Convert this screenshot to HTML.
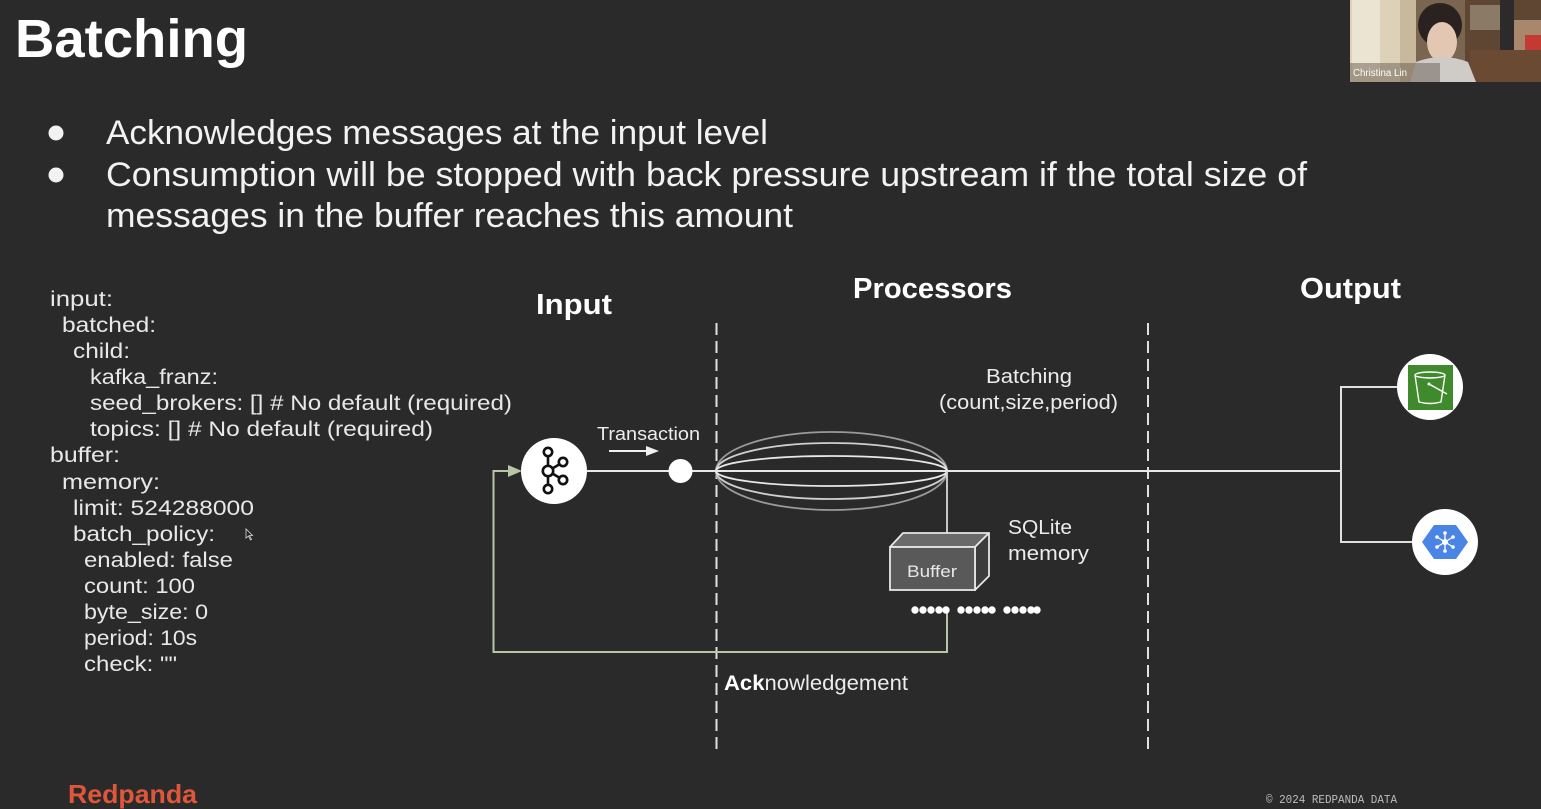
<!DOCTYPE html>
<html><head><meta charset="utf-8">
<style>
html,body{margin:0;padding:0;background:#2b2a2b;width:1541px;height:809px;overflow:hidden}
svg{display:block}
text{font-family:"Liberation Sans",sans-serif}
</style></head>
<body>
<svg width="1541" height="809" viewBox="0 0 1541 809" xmlns="http://www.w3.org/2000/svg">
<rect x="0" y="0" width="1541" height="809" fill="#2b2a2b"/>

<!-- Title -->
<text x="15" y="57" font-size="54" font-weight="bold" fill="#ffffff" textLength="233" lengthAdjust="spacingAndGlyphs">Batching</text>

<!-- Bullets -->
<circle cx="56" cy="133" r="7.5" fill="#f2f2f2"/>
<circle cx="56" cy="175" r="7.5" fill="#f2f2f2"/>
<g fill="#f2f2f2" font-size="34">
<text x="106" y="144" textLength="662" lengthAdjust="spacingAndGlyphs">Acknowledges messages at the input level</text>
<text x="106" y="186" textLength="1201" lengthAdjust="spacingAndGlyphs">Consumption will be stopped with back pressure upstream if the total size of</text>
<text x="106" y="227" textLength="687" lengthAdjust="spacingAndGlyphs">messages in the buffer reaches this amount</text>
</g>

<!-- Code -->
<g fill="#e8e8e8" font-size="21.5">
<text x="50" y="306" textLength="63" lengthAdjust="spacingAndGlyphs">input:</text>
<text x="62" y="332" textLength="94" lengthAdjust="spacingAndGlyphs">batched:</text>
<text x="73" y="358" textLength="57" lengthAdjust="spacingAndGlyphs">child:</text>
<text x="90" y="384" textLength="128" lengthAdjust="spacingAndGlyphs">kafka_franz:</text>
<text x="90" y="410" textLength="422" lengthAdjust="spacingAndGlyphs">seed_brokers: [] # No default (required)</text>
<text x="90" y="436" textLength="343" lengthAdjust="spacingAndGlyphs">topics: [] # No default (required)</text>
<text x="50" y="462" textLength="70" lengthAdjust="spacingAndGlyphs">buffer:</text>
<text x="62" y="489" textLength="98" lengthAdjust="spacingAndGlyphs">memory:</text>
<text x="73" y="515" textLength="181" lengthAdjust="spacingAndGlyphs">limit: 524288000</text>
<text x="73" y="541" textLength="142" lengthAdjust="spacingAndGlyphs">batch_policy:</text>
<text x="84" y="567" textLength="149" lengthAdjust="spacingAndGlyphs">enabled: false</text>
<text x="84" y="593" textLength="111" lengthAdjust="spacingAndGlyphs">count: 100</text>
<text x="84" y="619" textLength="124" lengthAdjust="spacingAndGlyphs">byte_size: 0</text>
<text x="84" y="645" textLength="113" lengthAdjust="spacingAndGlyphs">period: 10s</text>
<text x="84" y="671" textLength="93" lengthAdjust="spacingAndGlyphs">check: ""</text>
</g>
<!-- cursor -->
<path d="M246 529 L246 538 L248.5 536 L250.5 540 L251.5 539.5 L249.5 535.5 L252.5 535.5 Z" fill="#222" stroke="#ddd" stroke-width="0.8"/>

<!-- Column headings -->
<g fill="#ffffff" font-weight="bold" font-size="29">
<text x="536" y="314" textLength="76" lengthAdjust="spacingAndGlyphs">Input</text>
<text x="853" y="298" textLength="159" lengthAdjust="spacingAndGlyphs">Processors</text>
<text x="1300" y="298" textLength="101" lengthAdjust="spacingAndGlyphs">Output</text>
</g>

<!-- Dashed separators -->
<line x1="716.5" y1="323" x2="716.5" y2="750" stroke="#e0e0e0" stroke-width="2" stroke-dasharray="12,6"/>
<line x1="1148" y1="323" x2="1148" y2="750" stroke="#e0e0e0" stroke-width="2" stroke-dasharray="12,6"/>

<!-- Batching label -->
<g fill="#ececec" font-size="20">
<text x="986" y="383" textLength="86" lengthAdjust="spacingAndGlyphs">Batching</text>
<text x="939" y="409" textLength="179" lengthAdjust="spacingAndGlyphs">(count,size,period)</text>
</g>

<!-- Transaction -->
<text x="597" y="440" font-size="18" fill="#ececec" textLength="103" lengthAdjust="spacingAndGlyphs">Transaction</text>
<line x1="609" y1="451" x2="648" y2="451" stroke="#f0f0f0" stroke-width="2"/>
<path d="M646 446 L659 451 L646 456 Z" fill="#f0f0f0"/>

<!-- Acknowledgement loop (green) -->
<path d="M947 610 L947 652 L493.5 652 L493.5 471 L512 471" fill="none" stroke="#b9c6a6" stroke-width="2"/>
<path d="M508 465 L522 471 L508 477 Z" fill="#b9c6a6"/>

<!-- Main line -->
<line x1="587" y1="471" x2="1340" y2="471" stroke="#e8e8e8" stroke-width="2"/>

<!-- Ellipses -->
<g fill="none">
<ellipse cx="831.5" cy="471" rx="115.5" ry="39" stroke="#9a9a9a" stroke-width="1.8"/>
<ellipse cx="831.5" cy="471" rx="115.5" ry="28" stroke="#cfcfcf" stroke-width="1.8"/>
<ellipse cx="831.5" cy="471" rx="115.5" ry="15" stroke="#e8e8e8" stroke-width="1.8"/>
</g>

<!-- Kafka node -->
<circle cx="554" cy="471" r="33" fill="#ffffff"/>
<g stroke="#111" stroke-width="2.6" fill="none">
<line x1="548" y1="456" x2="548" y2="485"/>
<line x1="548" y1="471" x2="560" y2="464"/>
<line x1="548" y1="471" x2="560" y2="478"/>
<circle cx="548" cy="452" r="4.2" fill="#fff"/>
<circle cx="548" cy="471" r="5.2" fill="#fff"/>
<circle cx="548" cy="489" r="4.2" fill="#fff"/>
<circle cx="563" cy="462" r="4.2" fill="#fff"/>
<circle cx="563" cy="480" r="4.2" fill="#fff"/>
</g>

<!-- Transaction dot -->
<circle cx="680.5" cy="471" r="12" fill="#ffffff"/>

<!-- Buffer connector -->
<line x1="947" y1="471" x2="947" y2="533" stroke="#d8d8d8" stroke-width="1.8"/>

<!-- Buffer box -->
<path d="M890 547 L903 533 L989 533 L975 547 Z" fill="#6a6a6a" stroke="#e6e6e6" stroke-width="1.8" stroke-linejoin="round"/>
<path d="M975 547 L989 533 L989 576 L975 590 Z" fill="#3c3c3c" stroke="#e6e6e6" stroke-width="1.8" stroke-linejoin="round"/>
<rect x="890" y="547" width="85" height="43" fill="#5a595a" stroke="#e6e6e6" stroke-width="1.8"/>
<text x="907" y="577" font-size="16.5" fill="#e8e8e8" textLength="50" lengthAdjust="spacingAndGlyphs">Buffer</text>

<!-- SQLite memory -->
<g fill="#ececec" font-size="20.5">
<text x="1008" y="534" textLength="64" lengthAdjust="spacingAndGlyphs">SQLite</text>
<text x="1008" y="560" textLength="81" lengthAdjust="spacingAndGlyphs">memory</text>
</g>

<!-- Dots -->
<g fill="#ffffff">
<circle cx="915" cy="610" r="3.7"/><circle cx="923" cy="610" r="3.7"/><circle cx="931" cy="610" r="3.7"/><circle cx="939" cy="610" r="3.7"/><circle cx="946" cy="610" r="3.7"/>
<circle cx="961" cy="610" r="3.7"/><circle cx="969" cy="610" r="3.7"/><circle cx="977" cy="610" r="3.7"/><circle cx="985" cy="610" r="3.7"/><circle cx="992" cy="610" r="3.7"/>
<circle cx="1007" cy="610" r="3.7"/><circle cx="1015" cy="610" r="3.7"/><circle cx="1023" cy="610" r="3.7"/><circle cx="1031" cy="610" r="3.7"/><circle cx="1037" cy="610" r="3.7"/>
</g>

<!-- Acknowledgement label -->
<text x="724" y="690" font-size="21" fill="#ececec" textLength="184" lengthAdjust="spacingAndGlyphs"><tspan font-weight="bold" fill="#ffffff">Ack</tspan>nowledgement</text>

<!-- Output branches -->
<g stroke="#e0e0e0" stroke-width="2" fill="none">
<path d="M1398 387 L1341 387 L1341 542 L1413 542"/>
</g>

<!-- S3 icon -->
<circle cx="1430" cy="387" r="33" fill="#ffffff"/>
<rect x="1408" y="365" width="45" height="45" fill="#3f8a2c"/>
<g stroke="#ffffff" stroke-width="1.4" fill="none">
<ellipse cx="1430" cy="375" rx="15" ry="3"/>
<path d="M1415 375 L1419 402 Q1430 405 1441 402 L1445 375"/>
<path d="M1429 384 L1447 394"/>
</g>
<circle cx="1429" cy="384" r="1.5" fill="#fff"/>

<!-- GCP icon -->
<circle cx="1445" cy="542" r="33" fill="#ffffff"/>
<path d="M1434 525 L1456 525 L1468 542 L1456 559 L1434 559 L1422 542 Z" fill="#4a84e4"/>
<g stroke="#ffffff" stroke-width="1.3">
<line x1="1445" y1="542" x2="1445" y2="533"/>
<line x1="1445" y1="542" x2="1445" y2="551"/>
<line x1="1445" y1="542" x2="1437" y2="537"/>
<line x1="1445" y1="542" x2="1453" y2="537"/>
<line x1="1445" y1="542" x2="1437" y2="547"/>
<line x1="1445" y1="542" x2="1453" y2="547"/>
</g>
<g fill="#ffffff">
<circle cx="1445" cy="542" r="3"/>
<circle cx="1445" cy="533" r="1.8"/><circle cx="1445" cy="551" r="1.8"/>
<circle cx="1437" cy="537" r="1.8"/><circle cx="1453" cy="537" r="1.8"/>
<circle cx="1437" cy="547" r="1.8"/><circle cx="1453" cy="547" r="1.8"/>
</g>

<!-- Footer -->
<text x="68" y="803" font-size="26" font-weight="bold" fill="#e0563b" textLength="129" lengthAdjust="spacingAndGlyphs">Redpanda</text>
<text x="1266" y="803" style="font-family:'Liberation Mono',monospace" font-size="12" fill="#bdbdbd" textLength="131" lengthAdjust="spacingAndGlyphs">© 2024 REDPANDA DATA</text>

<!-- Webcam -->
<g>
<rect x="1350" y="0" width="191" height="82" fill="#7a6550"/>
<rect x="1350" y="0" width="50" height="82" fill="#ddd1ba"/>
<rect x="1352" y="0" width="28" height="70" fill="#ece4d2"/>
<rect x="1400" y="0" width="16" height="82" fill="#c8b89c"/>
<rect x="1465" y="0" width="76" height="82" fill="#5e4632"/>
<rect x="1470" y="5" width="30" height="25" fill="#8b7a66"/>
<rect x="1500" y="0" width="14" height="50" fill="#2d2a2c"/>
<rect x="1514" y="20" width="27" height="30" fill="#a8876c"/>
<rect x="1525" y="35" width="16" height="18" fill="#c23a32"/>
<rect x="1470" y="50" width="71" height="32" fill="#6a4a33"/>
<ellipse cx="1440" cy="25" rx="22" ry="22" fill="#2a2220"/>
<ellipse cx="1442" cy="42" rx="15" ry="20" fill="#e3c7b3"/>
<path d="M1410 82 L1416 62 Q1442 52 1468 62 L1476 82 Z" fill="#cfccc8"/>
<rect x="1350" y="63" width="90" height="19" fill="#5b4d44" opacity="0.45"/>
<text x="1353" y="76" font-size="10" fill="#ffffff" textLength="54" lengthAdjust="spacingAndGlyphs">Christina Lin</text>
</g>
</svg>
</body></html>
